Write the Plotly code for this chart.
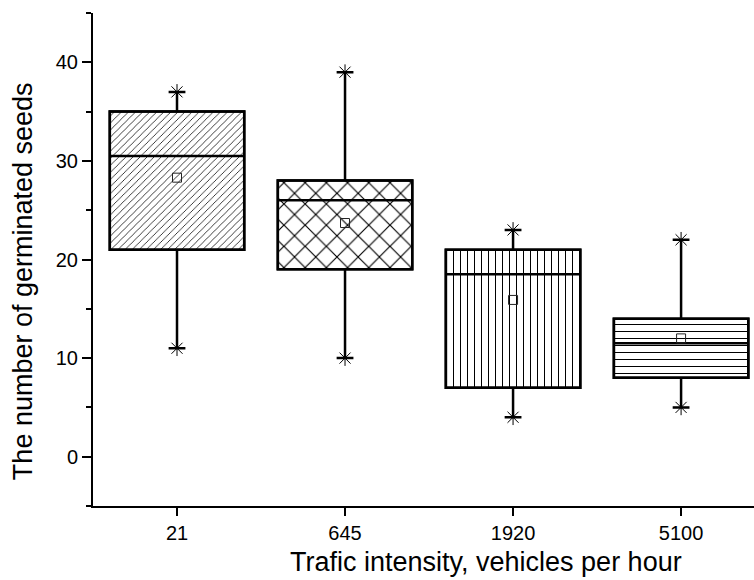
import plotly.graph_objects as go

categories = ["21", "645", "1920", "5100"]
q1 = [21, 19, 7, 8]
median = [30.5, 26, 18.5, 11.5]
q3 = [35, 28, 21, 14]
lower = [11, 10, 4, 5]
upper = [37, 39, 23, 22]
mean = [28.3, 23.7, 15.9, 12.0]
patterns = ["/", "x", "|", "-"]
pattern_sizes = [5, 15, 7, 7]

xs = list(range(len(categories)))
FONT = "Liberation Sans, Arial, sans-serif"

fig = go.Figure()

# hatched boxes (IQR)
fig.add_trace(go.Bar(
    x=xs, y=[b - a for a, b in zip(q1, q3)], base=q1, width=0.8,
    marker=dict(color="white",
                line=dict(color="black", width=2.5),
                pattern=dict(shape=patterns, size=pattern_sizes, solidity=0.15,
                             fgcolor="black", bgcolor="white", fillmode="replace")),
    hoverinfo="skip", showlegend=False,
))

# box outlines, medians, whiskers
fig.add_trace(go.Box(
    x=xs, q1=q1, median=median, q3=q3, lowerfence=lower, upperfence=upper,
    width=0.8, whiskerwidth=0.125,
    fillcolor="rgba(0,0,0,0)", line=dict(color="black", width=2.5),
    boxpoints=False, showlegend=False,
))

# min / max markers
fig.add_trace(go.Scatter(
    x=xs + xs, y=lower + upper, mode="markers",
    marker=dict(symbol="asterisk-open", size=13, color="black", line=dict(color="black", width=1)),
    showlegend=False, hoverinfo="skip",
))

# means
fig.add_trace(go.Scatter(
    x=xs, y=mean, mode="markers",
    marker=dict(symbol="square-open", size=9, color="#222", line=dict(color="#222", width=1)),
    showlegend=False, hoverinfo="skip",
))

fig.update_layout(
    width=754, height=580,
    margin=dict(l=93, r=0, t=13, b=74),
    paper_bgcolor="white", plot_bgcolor="white",
    font=dict(family=FONT, color="black"),
    barmode="overlay",
    xaxis=dict(
        range=[-0.5, 3.434], tickmode="array", tickvals=xs, ticktext=categories,
        showline=True, linecolor="black", linewidth=2, mirror=False,
        ticks="outside", ticklen=8, tickwidth=2, tickcolor="black",
        showgrid=False, zeroline=False,
        tickfont=dict(size=20, family=FONT),
    ),
    yaxis=dict(
        range=[-5, 45], tickmode="array", tickvals=[0, 10, 20, 30, 40],
        showline=True, linecolor="black", linewidth=2,
        ticks="outside", ticklen=9, tickwidth=2, tickcolor="black",
        minor=dict(tickvals=[-5, 5, 15, 25, 35, 45], ticks="outside", ticklen=5, tickwidth=2, tickcolor="black"),
        showgrid=False, zeroline=False,
        tickfont=dict(size=20, family=FONT),
    ),
    annotations=[
        dict(text="Trafic intensity, vehicles per hour", xref="paper", yref="paper",
             x=0.595, y=-0.113, xanchor="center", yanchor="middle", showarrow=False,
             font=dict(size=27, family=FONT, color="black")),
        dict(text="The number of germinated seeds", xref="paper", yref="paper",
             x=-0.106, y=0.456, xanchor="center", yanchor="middle", showarrow=False,
             textangle=-90, font=dict(size=27, family=FONT, color="black")),
    ],
)

fig.write_html("out.html")
